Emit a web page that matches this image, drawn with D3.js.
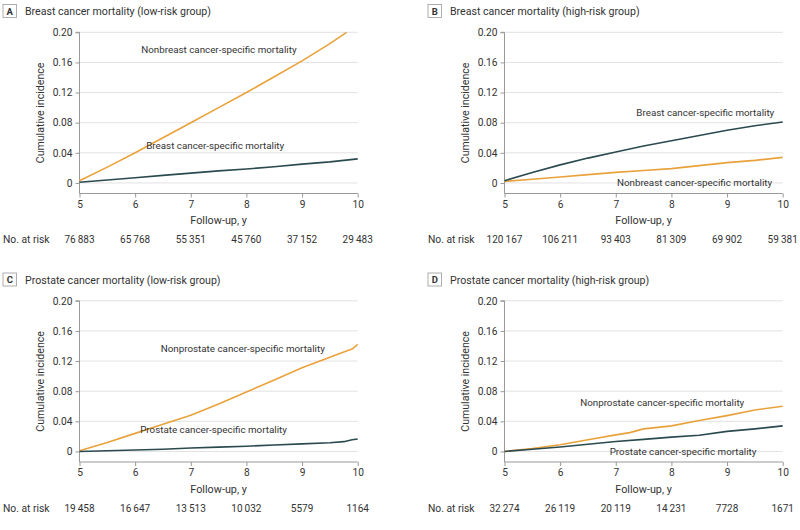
<!DOCTYPE html>
<html><head><meta charset="utf-8">
<script src="https://cdn.jsdelivr.net/npm/d3@7"></script>
<style>
html,body{margin:0;padding:0;background:#fff;}
svg{display:block;font-family:Roboto,"Liberation Sans",sans-serif;}
</style></head>
<body><svg id="c" width="800" height="530"></svg>
<script>
// ---- data ----
const xTicks = [5, 6, 7, 8, 9, 10];
const yTicks = [0, 0.04, 0.08, 0.12, 0.16, 0.20];

// Panel A: Breast cancer (low-risk)
const aNonYears = [5, 5.5, 6, 6.5, 7, 7.5, 8, 8.5, 9, 9.5, 9.8];
const aNonVals  = [0.003, 0.021, 0.040, 0.060, 0.080, 0.100, 0.120, 0.141, 0.162, 0.185, 0.200];
const aSpecYears = [5, 5.5, 6, 6.5, 7, 7.5, 8, 8.5, 9, 9.5, 10];
const aSpecVals  = [0.001, 0.004, 0.007, 0.010, 0.013, 0.016, 0.0185, 0.0215, 0.025, 0.028, 0.032];
const aRisk = ["76\u2009883", "65\u2009768", "55\u2009351", "45\u2009760", "37\u2009152", "29\u2009483"];

// Panel B: Breast cancer (high-risk)
const bSpecYears = [5, 5.5, 6, 6.5, 7, 7.5, 8, 8.5, 9, 9.5, 10];
const bSpecVals  = [0.003, 0.014, 0.024, 0.033, 0.041, 0.049, 0.056, 0.063, 0.070, 0.076, 0.081];
const bNonYears = [5, 5.5, 6, 6.5, 7, 7.5, 8, 8.5, 9, 9.5, 10];
const bNonVals  = [0.002, 0.005, 0.008, 0.011, 0.014, 0.0165, 0.019, 0.023, 0.027, 0.030, 0.034];
const bRisk = ["120\u2009167", "106\u2009211", "93\u2009403", "81\u2009309", "69\u2009902", "59\u2009381"];

// Panel C: Prostate cancer (low-risk)
const cNonYears = [5, 5.5, 6, 6.5, 7, 7.5, 8, 8.5, 9, 9.25, 9.5, 9.75, 9.9, 10];
const cNonVals  = [0.001, 0.012, 0.024, 0.036, 0.048, 0.063, 0.079, 0.095, 0.111, 0.118, 0.125, 0.132, 0.136, 0.142];
const cSpecYears = [5, 5.5, 6, 6.5, 7, 7.5, 8, 8.5, 9, 9.5, 9.75, 9.9, 10];
const cSpecVals  = [0.000, 0.001, 0.002, 0.003, 0.0045, 0.0057, 0.007, 0.0085, 0.010, 0.0115, 0.013, 0.0155, 0.0165];
const cRisk = ["19\u2009458", "16\u2009647", "13\u2009513", "10\u2009032", "5579", "1164"];

// Panel D: Prostate cancer (high-risk)
const dNonYears = [5, 5.5, 6, 6.5, 7, 7.25, 7.5, 7.75, 8, 8.5, 9, 9.5, 10];
const dNonVals  = [0.000, 0.004, 0.009, 0.0155, 0.022, 0.025, 0.030, 0.032, 0.034, 0.041, 0.0476, 0.055, 0.060];
const dSpecYears = [5, 5.5, 6, 6.5, 7, 7.5, 8, 8.5, 9, 9.5, 10];
const dSpecVals  = [0.000, 0.003, 0.006, 0.0095, 0.0133, 0.016, 0.019, 0.0215, 0.0267, 0.030, 0.034];
const dRisk = ["32\u2009274", "26\u2009119", "20\u2009119", "14\u2009231", "7728", "1671"];

const ORANGE = "#E9A23B", DARK = "#2B4A50";

const panels = [
  {letter:"A", title:"Breast cancer mortality (low-risk group)", ox:0, oy:0, risk:aRisk,
   series:[{x:aNonYears,y:aNonVals,c:ORANGE},{x:aSpecYears,y:aSpecVals,c:DARK}],
   labels:[{t:"Nonbreast cancer-specific mortality",x:6.11,y:0.177},{t:"Breast cancer-specific mortality",x:6.20,y:0.049}]},
  {letter:"B", title:"Breast cancer mortality (high-risk group)", ox:425, oy:0, risk:bRisk,
   series:[{x:bNonYears,y:bNonVals,c:ORANGE},{x:bSpecYears,y:bSpecVals,c:DARK}],
   labels:[{t:"Breast cancer-specific mortality",x:7.37,y:0.093},{t:"Nonbreast cancer-specific mortality",x:7.02,y:0.001}]},
  {letter:"C", title:"Prostate cancer mortality (low-risk group)", ox:0, oy:268.5, risk:cRisk,
   series:[{x:cNonYears,y:cNonVals,c:ORANGE},{x:cSpecYears,y:cSpecVals,c:DARK}],
   labels:[{t:"Nonprostate cancer-specific mortality",x:6.46,y:0.136},{t:"Prostate cancer-specific mortality",x:6.09,y:0.029}]},
  {letter:"D", title:"Prostate cancer mortality (high-risk group)", ox:425, oy:268.5, risk:dRisk,
   series:[{x:dNonYears,y:dNonVals,c:ORANGE},{x:dSpecYears,y:dSpecVals,c:DARK}],
   labels:[{t:"Nonprostate cancer-specific mortality",x:6.36,y:0.065},{t:"Prostate cancer-specific mortality",x:6.89,y:0.0}]}
];

const svg = d3.select("#c");
const TXT = "#333";
const FONT = 'Roboto,"Liberation Sans",sans-serif';

panels.forEach(p => {
  const g = svg.append("g").attr("transform", `translate(${p.ox},${p.oy})`);
  const x = d3.scaleLinear().domain([5, 10]).range([79.5, 357.7]);
  const y = d3.scaleLinear().domain([-0.014, 0.20]).range([193.5, 32.3]);

  // title
  g.append("rect").attr("x", 3).attr("y", 4.5).attr("width", 13.5).attr("height", 13)
    .attr("fill", "#fff").attr("stroke", "#999").attr("stroke-width", 0.8);
  g.append("text").attr("x", 9.8).attr("y", 14.8).attr("text-anchor", "middle")
    .attr("font-size", 9.5).attr("font-weight", "bold").attr("fill", TXT).text(p.letter);
  g.append("text").attr("x", 25).attr("y", 15).attr("font-size", 10.6).attr("fill", TXT).text(p.title);

  // gridlines
  g.append("g").selectAll("line").data(yTicks).join("line")
    .attr("x1", x(5)).attr("x2", x(10))
    .attr("y1", d => y(d)).attr("y2", d => y(d))
    .attr("stroke", "#e2e2e2").attr("stroke-width", 1);

  // axes
  const yAxis = g.append("g").attr("transform", `translate(${x(5)},0)`)
    .call(d3.axisLeft(y).tickValues(yTicks).tickSize(4).tickPadding(3)
      .tickFormat(d => d === 0 ? "0" : d3.format(".2f")(d)));
  const xAxis = g.append("g").attr("transform", `translate(0,${y.range()[0]})`)
    .call(d3.axisBottom(x).tickValues(xTicks).tickSize(4).tickPadding(3).tickFormat(d3.format("d")));
  [yAxis, xAxis].forEach(a => {
    a.select(".domain").attr("stroke", "#999").attr("stroke-width", 1);
    a.selectAll(".tick line").attr("stroke", "#999");
    a.selectAll("text").attr("font-size", 10.2).attr("fill", TXT).attr("font-family", FONT);
  });
  yAxis.select(".domain").attr("d", `M-4,${y(0.2)}H0V${y.range()[0]}`);
  xAxis.select(".domain").attr("d", `M${x(5)},0H${x(10)}`);

  // axis titles
  g.append("text").attr("transform", `translate(40,${(y(0.2) + y.range()[0]) / 2}) rotate(-90)`)
    .attr("text-anchor", "middle").attr("dy", "0.35em").attr("font-size", 10.6).attr("fill", TXT)
    .text("Cumulative incidence");
  g.append("text").attr("x", (x(5) + x(10)) / 2).attr("y", 224).attr("text-anchor", "middle")
    .attr("font-size", 10.8).attr("fill", TXT).text("Follow-up, y");

  // number at risk
  g.append("text").attr("x", 3).attr("y", 243).attr("font-size", 10.3).attr("fill", TXT).text("No. at risk");
  g.append("g").selectAll("text").data(p.risk).join("text")
    .attr("x", (d, i) => x(xTicks[i])).attr("y", 243).attr("text-anchor", "middle")
    .attr("font-size", 10).attr("fill", TXT).text(d => d);

  // lines
  const line = d3.line().x(d => x(d[0])).y(d => y(d[1]));
  p.series.forEach(s => {
    g.append("path").datum(d3.zip(s.x, s.y)).attr("d", line)
      .attr("fill", "none").attr("stroke", s.c).attr("stroke-width", 1.6)
      .attr("stroke-linejoin", "round");
  });

  // series labels
  p.labels.forEach(l => {
    g.append("text").attr("x", x(l.x)).attr("y", y(l.y)).attr("dy", "0.35em")
      .attr("font-size", 9.8).attr("fill", TXT).text(l.t);
  });
});
</script></body></html>
